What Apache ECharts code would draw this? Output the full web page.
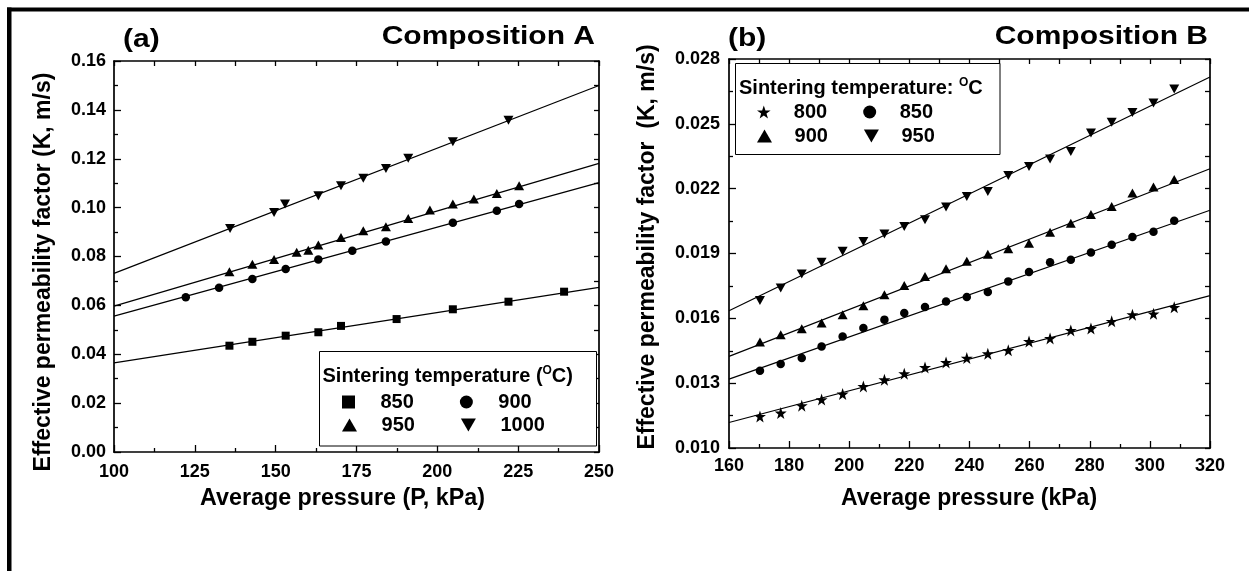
<!DOCTYPE html>
<html>
<head>
<meta charset="utf-8">
<script src="https://cdn.jsdelivr.net/npm/echarts@6/dist/echarts.min.js"></script>
<style>
  html, body { margin: 0; padding: 0; background: #fff; }
  #chart { width: 1249px; height: 571px; }
</style>
</head>
<body>
<div id="chart"></div>
<script>
// ---------- Composition A: K vs average pressure (P, kPa) ----------
const a850  = [[135.7,0.0435],[142.8,0.0451],[153.1,0.0476],[163.2,0.0490],[170.2,0.0516],[187.4,0.0544],[204.8,0.0584],[222.0,0.0615],[239.2,0.0656]];
const a900  = [[122.2,0.0633],[132.5,0.0672],[142.8,0.0708],[153.1,0.0749],[163.2,0.0788],[173.7,0.0824],[184.1,0.0861],[204.8,0.0938],[218.4,0.0987],[225.3,0.1015]];
const a950  = [[135.7,0.0738],[142.8,0.0768],[149.5,0.0788],[156.5,0.0817],[160.1,0.0826],[163.2,0.0847],[170.2,0.0878],[177.1,0.0905],[184.1,0.0922],[191.0,0.0956],[197.7,0.0990],[204.8,0.1015],[211.3,0.1035],[218.4,0.1058],[225.3,0.1090]];
const a1000 = [[135.9,0.0915],[149.5,0.0980],[152.9,0.1015],[163.2,0.1049],[170.2,0.1090],[177.1,0.1120],[184.1,0.1160],[191.0,0.1202],[204.8,0.1270],[222.0,0.1358]];
// linear fits, end points at the axis limits
const fitA850  = [[100,0.0365],[250,0.0674]];
const fitA900  = [[100,0.0556],[250,0.1102]];
const fitA950  = [[100,0.0597],[250,0.1181]];
const fitA1000 = [[100,0.0731],[250,0.1500]];

// ---------- Composition B: K vs average pressure (kPa) ----------
const pB = [170.3,177.2,184.2,190.8,197.8,204.7,211.7,218.3,225.2,232.2,239.1,246.1,252.9,259.8,266.8,273.7,280.4,287.3,294.2,301.2,308.1];
const b800 = [0.01146,0.01162,0.01196,0.01224,0.01250,0.01285,0.01316,0.01344,0.01373,0.01396,0.01416,0.01436,0.01452,0.01493,0.01507,0.01544,0.01553,0.01586,0.01617,0.01621,0.01651];
const b850 = [0.01358,0.01389,0.01416,0.01470,0.01516,0.01555,0.01594,0.01625,0.01652,0.01678,0.01699,0.01722,0.01771,0.01814,0.01859,0.01871,0.01905,0.01941,0.01976,0.02001,0.02052];
const b900 = [0.01490,0.01524,0.01552,0.01578,0.01617,0.01658,0.01709,0.01752,0.01794,0.01830,0.01864,0.01896,0.01922,0.01947,0.01998,0.02040,0.02080,0.02118,0.02180,0.02208,0.02242];
const b950 = [0.01682,0.01740,0.01805,0.01860,0.01910,0.01955,0.01990,0.02025,0.02056,0.02115,0.02164,0.02187,0.02261,0.02303,0.02337,0.02372,0.02458,0.02507,0.02553,0.02596,0.02661];
const fitB800 = [[160,0.01118],[320,0.01705]];
const fitB850 = [[160,0.01319],[320,0.02100]];
const fitB900 = [[160,0.01424],[320,0.02292]];
const fitB950 = [[160,0.01635],[320,0.02717]];

// axis ranges
const axA = { xMin: 100, xMax: 250, xStep: 25, yMin: 0, yMax: 0.16, yStep: 0.02 };
const axB = { xMin: 160, xMax: 320, xStep: 20, yMin: 0.010, yMax: 0.028, yStep: 0.003 };

// ---------- styling ----------
const FONT = 'Liberation Sans, Arial, Helvetica, sans-serif';
const INK = '#000';
const SQUARE = 'path://M0,0H10V10H0Z';
const TRI_UP = 'path://M5,0L10,8.66L0,8.66Z';
const TRI_DOWN = 'path://M0,0L10,0L5,8.66Z';
const STAR = 'path://M50,0L61.8,35.1L98.1,35.1L68.8,56.8L79.4,91.9L50,70.3L20.6,91.9L31.2,56.8L1.9,35.1L38.2,35.1Z';

const pair = (xs, ys) => xs.map((x, i) => [x, ys[i]]);

function axis(opts) {
  return {
    type: 'value',
    gridIndex: opts.grid,
    position: opts.position,
    min: opts.min, max: opts.max, interval: opts.interval,
    axisLine: { show: true, onZero: false, lineStyle: { color: INK, width: 1.7 } },
    axisTick: { show: true, inside: true, length: opts.tickLen, lineStyle: { color: INK, width: 1.3 } },
    minorTick: { show: !!opts.minor, splitNumber: 2, length: 4, lineStyle: { color: INK, width: 1.3 } },
    splitLine: { show: false },
    minorSplitLine: { show: false },
    axisLabel: opts.fmt ? {
      show: true, margin: opts.margin, color: INK, fontFamily: FONT, fontWeight: 'bold', fontSize: 18,
      formatter: opts.fmt, showMinLabel: true, showMaxLabel: true, hideOverlap: false
    } : { show: false },
    silent: true
  };
}

function scatter(name, data, symbol, size, xi, yi) {
  return {
    type: 'scatter', name, data, symbol, symbolSize: size,
    xAxisIndex: xi, yAxisIndex: yi,
    itemStyle: { color: INK, opacity: 1 }, z: 5, silent: true
  };
}
function fit(data, xi, yi) {
  return {
    type: 'line', data, xAxisIndex: xi, yAxisIndex: yi, symbol: 'none',
    lineStyle: { color: INK, width: 1.2 }, z: 3, silent: true
  };
}

const legendText = { color: INK, fontFamily: FONT, fontWeight: 'bold', fontSize: 20 };
function legendRow(left, top, gap, w, items) {
  return {
    left, top, orient: 'horizontal', itemGap: gap, itemWidth: w, itemHeight: 13,
    padding: 0, selectedMode: false, textStyle: legendText,
    formatter: name => name.split(' ')[1],
    data: items.map(([name, icon]) => ({ name, icon, itemStyle: { color: INK } }))
  };
}

const chart = echarts.init(document.getElementById('chart'), null, { renderer: 'canvas' });

const option = {
  animation: false,
  backgroundColor: '#fff',
  grid: [
    { left: 114, top: 61, width: 485, height: 391 },
    { left: 729, top: 59, width: 481, height: 389 }
  ],
  xAxis: [
    axis({ grid: 0, position: 'bottom', min: axA.xMin, max: axA.xMax, interval: axA.xStep, tickLen: 7, minor: true, margin: 11, fmt: v => String(v) }),
    axis({ grid: 0, position: 'top', min: axA.xMin, max: axA.xMax, interval: axA.xStep / 2, tickLen: 5 }),
    axis({ grid: 1, position: 'bottom', min: axB.xMin, max: axB.xMax, interval: axB.xStep, tickLen: 7, minor: true, margin: 9, fmt: v => String(v) }),
    axis({ grid: 1, position: 'top', min: axB.xMin, max: axB.xMax, interval: axB.xStep / 2, tickLen: 5 })
  ],
  yAxis: [
    axis({ grid: 0, position: 'left', min: axA.yMin, max: axA.yMax, interval: axA.yStep, tickLen: 7, minor: true, margin: 8, fmt: v => v.toFixed(2) }),
    axis({ grid: 0, position: 'right', min: axA.yMin, max: axA.yMax, interval: axA.yStep / 2, tickLen: 5 }),
    axis({ grid: 1, position: 'left', min: axB.yMin, max: axB.yMax, interval: axB.yStep, tickLen: 7, minor: true, margin: 9, fmt: v => v.toFixed(3) }),
    axis({ grid: 1, position: 'right', min: axB.yMin, max: axB.yMax, interval: axB.yStep / 2, tickLen: 5 })
  ],
  legend: [
    legendRow(342, 392, 46, 54, [['A 850', SQUARE], ['A 900', 'circle']]),
    legendRow(342, 415, 46, 54, [['A 950', TRI_UP], ['A 1000', TRI_DOWN]]),
    legendRow(757, 102, 36, 50, [['B 800', STAR], ['B 850', 'circle']]),
    legendRow(757, 126, 36, 50, [['B 900', TRI_UP], ['B 950', TRI_DOWN]])
  ],
  series: [
    fit(fitA850, 0, 0), fit(fitA900, 0, 0), fit(fitA950, 0, 0), fit(fitA1000, 0, 0),
    scatter('A 850', a850, SQUARE, [8, 8], 0, 0),
    scatter('A 900', a900, 'circle', 8.5, 0, 0),
    scatter('A 950', a950, TRI_UP, [10, 9], 0, 0),
    scatter('A 1000', a1000, TRI_DOWN, [10, 9], 0, 0),

    fit(fitB800, 2, 2), fit(fitB850, 2, 2), fit(fitB900, 2, 2), fit(fitB950, 2, 2),
    scatter('B 800', pair(pB, b800), STAR, [12, 12], 2, 2),
    scatter('B 850', pair(pB, b850), 'circle', 8.5, 2, 2),
    scatter('B 900', pair(pB, b900), TRI_UP, [10, 9], 2, 2),
    scatter('B 950', pair(pB, b950), TRI_DOWN, [10, 9], 2, 2)
  ],
  graphic: [
    // page frame (top and left rules)
    { type: 'rect', z: 10, shape: { x: 7, y: 7.5, width: 1242, height: 4 }, style: { fill: INK } },
    { type: 'rect', z: 10, shape: { x: 7, y: 7.5, width: 4.5, height: 564 }, style: { fill: INK } },

    // panel captions
    { type: 'text', x: 123, y: 40, scaleX: 1.2, style: { text: '(a)', fill: INK, fontFamily: FONT, fontWeight: 'bold', fontSize: 25, align: 'left', verticalAlign: 'middle' } },
    { type: 'text', x: 595, y: 37, scaleX: 1.2, style: { text: 'Composition A', fill: INK, fontFamily: FONT, fontWeight: 'bold', fontSize: 25, align: 'right', verticalAlign: 'middle' } },
    { type: 'text', x: 728, y: 39, scaleX: 1.2, style: { text: '(b)', fill: INK, fontFamily: FONT, fontWeight: 'bold', fontSize: 25, align: 'left', verticalAlign: 'middle' } },
    { type: 'text', x: 1208, y: 37, scaleX: 1.2, style: { text: 'Composition B', fill: INK, fontFamily: FONT, fontWeight: 'bold', fontSize: 25, align: 'right', verticalAlign: 'middle' } },

    // axis titles
    { type: 'text', x: 44, y: 272, rotation: Math.PI / 2, style: { text: 'Effective permeability factor (K, m/s)', fill: INK, fontFamily: FONT, fontWeight: 'bold', fontSize: 23, align: 'center', verticalAlign: 'middle' } },
    { type: 'text', x: 648, y: 247, rotation: Math.PI / 2, style: { text: 'Effective permeability factor  (K, m/s)', fill: INK, fontFamily: FONT, fontWeight: 'bold', fontSize: 23, align: 'center', verticalAlign: 'middle' } },
    { type: 'text', x: 342.5, y: 498.5, style: { text: 'Average pressure (P, kPa)', fill: INK, fontFamily: FONT, fontWeight: 'bold', fontSize: 23.3, align: 'center', verticalAlign: 'middle' } },
    { type: 'text', x: 969, y: 498.5, style: { text: 'Average pressure (kPa)', fill: INK, fontFamily: FONT, fontWeight: 'bold', fontSize: 23, align: 'center', verticalAlign: 'middle' } },

    // legend frames and headings
    { type: 'rect', z: 1, shape: { x: 319.5, y: 351.5, width: 277, height: 94.5 }, style: { fill: '#fff', stroke: INK, lineWidth: 1 } },
    { type: 'text', z: 2, x: 322.5, y: 376, style: {
        text: '{t|Sintering temperature (}{s|O}{t|C)}', align: 'left', verticalAlign: 'middle',
        rich: {
          t: { fill: INK, fontFamily: FONT, fontWeight: 'bold', fontSize: 20, lineHeight: 24 },
          s: { fill: INK, fontFamily: FONT, fontWeight: 'bold', fontSize: 12, lineHeight: 24, verticalAlign: 'top', padding: [1, 0, 0, 0] }
        } } },
    { type: 'rect', z: 1, shape: { x: 735.5, y: 63.5, width: 264.5, height: 91 }, style: { fill: '#fff', stroke: INK, lineWidth: 1 } },
    { type: 'text', z: 2, x: 739, y: 88, style: {
        text: '{t|Sintering temperature: }{s|O}{t|C}', align: 'left', verticalAlign: 'middle',
        rich: {
          t: { fill: INK, fontFamily: FONT, fontWeight: 'bold', fontSize: 20, lineHeight: 24 },
          s: { fill: INK, fontFamily: FONT, fontWeight: 'bold', fontSize: 12, lineHeight: 24, verticalAlign: 'top', padding: [1, 0, 0, 0] }
        } } }
  ]
};

chart.setOption(option);
</script>
</body>
</html>
